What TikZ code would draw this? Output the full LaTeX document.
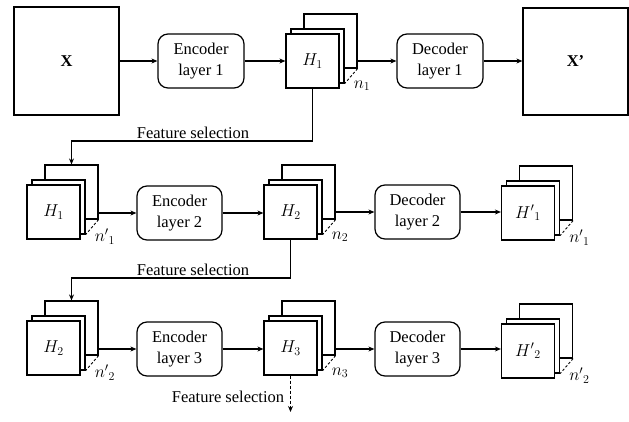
\documentclass[tikz,border=0pt]{standalone}
\usepackage{fontspec}
\setmainfont{Liberation Serif}
\usetikzlibrary{arrows.meta,calc}
\tikzset{
  every picture/.style={x=1pt,y=-1pt},
  base/.style={draw=black,line width=1.2pt,fill=white,font=\fontsize{16.5}{20.5}\selectfont},
  sq/.style={base,minimum width=53pt,minimum height=54pt,inner sep=0pt},
  bigbox/.style={base,minimum width=105pt,minimum height=108pt,inner sep=0pt},
  layerbox/.style={base,rounded corners=10pt,minimum width=86pt,minimum height=54pt,align=center,inner sep=0pt},
  conn/.style={line width=1.1pt,-{Stealth[length=6pt,width=5pt]}},
  lbl/.style={font=\fontsize{16.5}{20.5}\selectfont,inner sep=0pt},
}
\newcommand\stackfig[5]{%
  \node[sq] (#1b) at (#2+18,#3-20) {};
  \node[sq] (#1m) at (#2+5,#3-5) {};
  \node[sq] (#1) at (#2,#3) {#4};
  \draw[line width=0.9pt,dash pattern=on 2.5pt off 2pt] (#1b.south east) -- (#1m.south east);
  \node[lbl,anchor=west] (#1n) at ($(#1m.south east)+(9,2)$) {#5};
}
\begin{document}
\begin{tikzpicture}
\useasboundingbox (0,0) rectangle (629,421);
% Row 1
\node[bigbox] (X) at (66.5,61) {\textbf{X}};
\node[layerbox] (enc1) at (201,61) {Encoder\\layer 1};
\stackfig{Ha}{312.5}{61}{$H_1$}{$n_1$}
\node[layerbox] (dec1) at (440,61) {Decoder\\layer 1};
\node[bigbox,minimum height=107pt] (Xp) at (575.5,61.5) {\textbf{X’}};
\draw[conn] (X.east) -- (enc1.west);
\draw[conn] (enc1.east) -- (Ha.west);
\draw[conn] (Hab.east |- dec1.west) -- (dec1.west);
\draw[conn] (dec1.east) -- (Xp.west |- dec1.east);
% Row 2
\stackfig{Hb}{53.5}{212}{$H_1$}{${n'}_1$}
\node[layerbox,minimum width=85pt] (enc2) at (179.5,213) {Encoder\\layer 2};
\stackfig{Hc}{290.5}{212}{$H_2$}{$n_2$}
\node[layerbox,minimum width=85pt] (dec2) at (417.5,212) {Decoder\\layer 2};
\stackfig{Hd}{528}{213}{${H'}_1$}{${n'}_1$}
\draw[conn] (Hbb.east |- enc2.west) -- (enc2.west);
\draw[conn] (enc2.east) -- (Hc.west |- enc2.east);
\draw[conn] (Hcb.east |- dec2.west) -- (dec2.west);
\draw[conn] (dec2.east) -- (Hd.west |- dec2.east);
% Feature selection 1
\coordinate (fa) at (312.5,141);
\draw[conn] (Ha.south) -- (fa) -| (Hbb.north);
\node[lbl] (fs1) at (193,133) {Feature selection};
% Row 3
\stackfig{He}{53.5}{348}{$H_2$}{${n'}_2$}
\node[layerbox,minimum width=85pt] (enc3) at (179.5,349) {Encoder\\layer 3};
\stackfig{Hf}{290.5}{348}{$H_3$}{$n_3$}
\node[layerbox,minimum width=85pt] (dec3) at (417.5,349) {Decoder\\layer 3};
\stackfig{Hg}{528}{351}{${H'}_2$}{${n'}_2$}
\draw[conn] (Heb.east |- enc3.west) -- (enc3.west);
\draw[conn] (enc3.east) -- (Hf.west |- enc3.east);
\draw[conn] (Hfb.east |- dec3.west) -- (dec3.west);
\draw[conn] (dec3.east) -- (Hg.west |- dec3.east);
% Feature selection 2
\coordinate (fb) at (290.5,278);
\draw[conn] (Hc.south) -- (fb) -| (Heb.north);
\node[lbl] (fs2) at (193,270) {Feature selection};
% Feature selection 3
\coordinate (fc) at (290.5,412);
\draw[conn,dash pattern=on 3pt off 2pt] (Hf.south) -- (fc);
\node[lbl] (fs3) at (228,397) {Feature selection};
\end{tikzpicture}
\end{document}
